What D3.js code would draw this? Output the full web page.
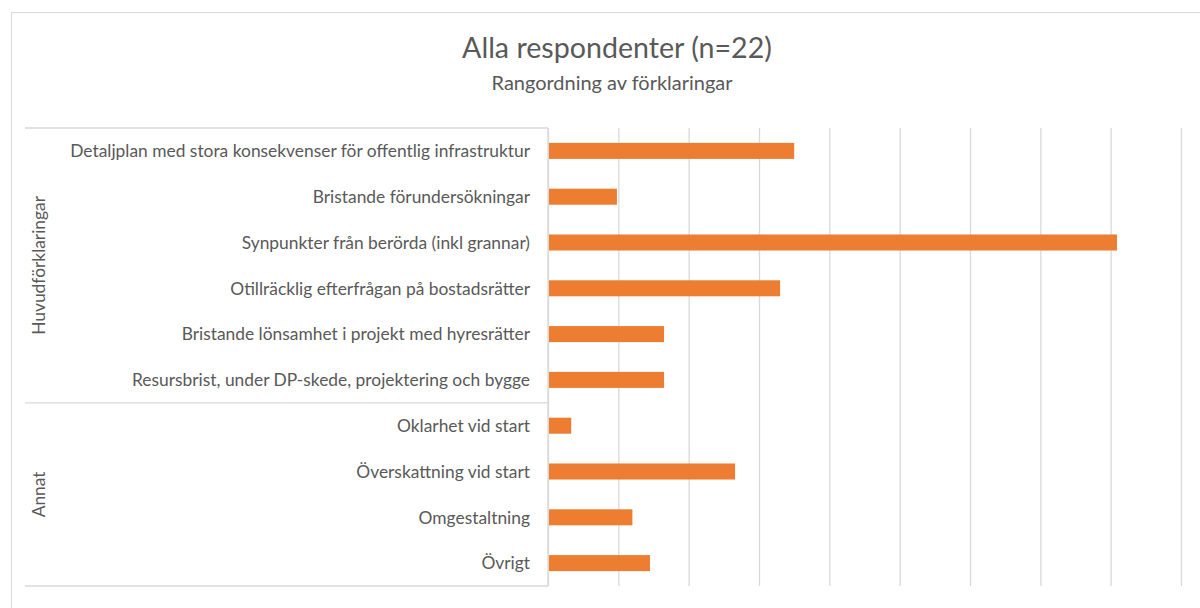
<!DOCTYPE html>
<html>
<head>
<meta charset="utf-8">
<script src="https://cdn.jsdelivr.net/npm/d3@7"></script>
<style>
  body { margin: 0; background: #fff; }
  svg text { font-family: Lato, "Open Sans", sans-serif; fill: #595959; }
</style>
</head>
<body>
<div id="chart"></div>
<script>
// data
const categories = [
  "Detaljplan med stora konsekvenser för offentlig infrastruktur",
  "Bristande förundersökningar",
  "Synpunkter från berörda (inkl grannar)",
  "Otillräcklig efterfrågan på bostadsrätter",
  "Bristande lönsamhet i projekt med hyresrätter",
  "Resursbrist, under DP-skede, projektering och bygge",
  "Oklarhet vid start",
  "Överskattning vid start",
  "Omgestaltning",
  "Övrigt"
];
const values = [3.5, 0.98, 8.09, 3.3, 1.65, 1.65, 0.33, 2.66, 1.2, 1.45];
const groupNames = ["Huvudförklaringar", "Annat"];
const groupSizes = [6, 4];
const xTicks = [0, 1, 2, 3, 4, 5, 6, 7, 8, 9];

const width = 1200, height = 608;
const plot = { left: 548, right: 1181, top: 128, bottom: 586 };
const grey = "#d9d9d9";

const svg = d3.select("#chart").append("svg")
  .attr("width", width)
  .attr("height", height);

// outer chart frame
svg.append("rect")
  .attr("x", 11.5).attr("y", 12.5)
  .attr("width", 1200).attr("height", 620)
  .attr("fill", "none").attr("stroke", grey);

// helper: pick a font size so a string gets a given width
function fitSize(text, target, base) {
  const t = svg.append("text").style("font-size", base + "px").text(text);
  const w = t.node().getComputedTextLength();
  t.remove();
  return base * target / w;
}

// titles
const titleSize = fitSize("Alla respondenter (n=22)", 310, 24);
svg.append("text")
  .attr("x", 617).attr("y", 58)
  .attr("text-anchor", "middle")
  .style("font-size", titleSize + "px")
  .text("Alla respondenter (n=22)");

const subSize = fitSize("Rangordning av förklaringar", 241, 16);
svg.append("text")
  .attr("x", 612).attr("y", 90)
  .attr("text-anchor", "middle")
  .style("font-size", subSize + "px")
  .text("Rangordning av förklaringar");

// scales
const x = d3.scaleLinear().domain([0, 9]).range([plot.left, plot.right]);
const y = d3.scaleBand().domain(categories)
  .range([plot.top, plot.bottom])
  .paddingInner(0.65).paddingOuter(0.325);

// gridlines
const grid = svg.append("g")
  .attr("transform", `translate(0,${plot.bottom})`)
  .call(d3.axisBottom(x).tickValues(xTicks).tickSize(-(plot.bottom - plot.top)).tickFormat(""));
grid.select(".domain").remove();
grid.selectAll(".tick line").attr("stroke", grey).attr("stroke-width", 1.3);

// bars
svg.append("g")
  .selectAll("rect")
  .data(values)
  .enter()
  .append("rect")
  .attr("x", x(0) + 1)
  .attr("y", (d, i) => y(categories[i]))
  .attr("width", d => x(d) - x(0) - 1)
  .attr("height", y.bandwidth())
  .attr("fill", "#ed7d31");

// category labels
const labelSize = fitSize(categories[0], 460, 16);
svg.append("g")
  .selectAll("text")
  .data(categories)
  .enter()
  .append("text")
  .attr("x", plot.left - 18)
  .attr("y", d => y(d) + y.bandwidth() / 2)
  .attr("dy", "0.36em")
  .attr("text-anchor", "end")
  .style("font-size", labelSize + "px")
  .text(d => d);

// group lines and labels
const cat = svg.append("g");
cat.append("line")
  .attr("x1", plot.left).attr("x2", plot.left)
  .attr("y1", plot.top).attr("y2", plot.bottom)
  .attr("stroke", grey).attr("stroke-width", 1.3);

let start = 0;
const bounds = [y.range()[0]];
groupSizes.forEach(n => {
  start += n;
  bounds.push(plot.top + y.step() * start);
});
cat.selectAll("line.sep")
  .data(bounds)
  .enter()
  .append("line")
  .attr("class", "sep")
  .attr("x1", 25).attr("x2", plot.left)
  .attr("y1", d => d).attr("y2", d => d)
  .attr("stroke", grey).attr("stroke-width", 1.3);

cat.selectAll("text")
  .data(groupNames)
  .enter()
  .append("text")
  .attr("transform", (d, i) => `translate(45,${(bounds[i] + bounds[i + 1]) / 2}) rotate(-90)`)
  .attr("text-anchor", "middle")
  .style("font-size", labelSize + "px")
  .text(d => d);
</script>
</body>
</html>
